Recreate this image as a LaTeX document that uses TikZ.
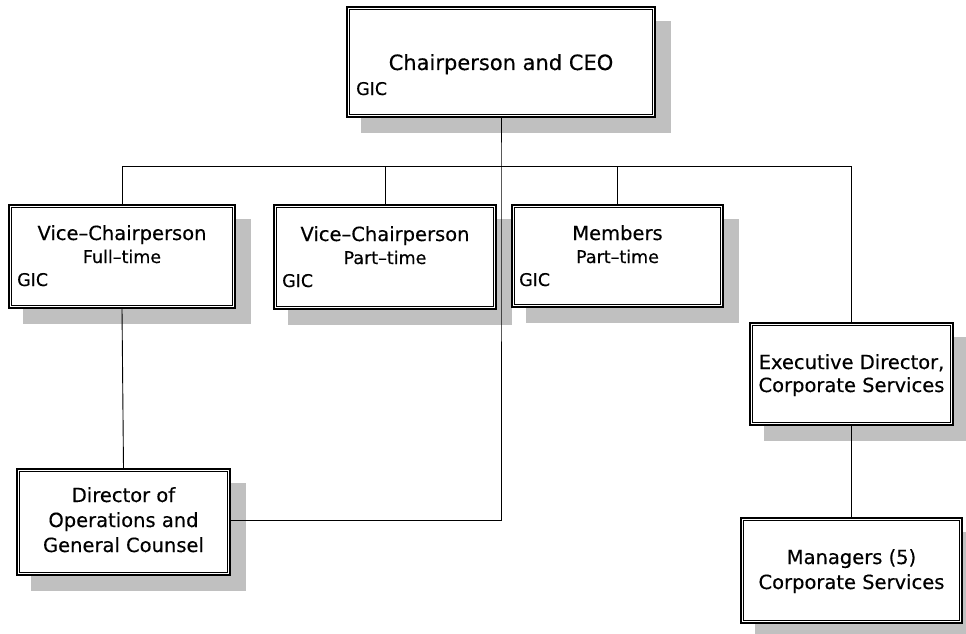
\documentclass[tikz,border=0pt]{standalone}
\usepackage{fontspec}
\setmainfont{DejaVu Sans}[FakeBold=0.35]
\pgfdeclarelayer{shadowlayer}
\pgfdeclarelayer{linelayer}
\pgfsetlayers{shadowlayer,linelayer,main}
\definecolor{shadowgray}{RGB}{192,192,192}
\tikzset{
  orgbox/.style={draw=black, line width=1.4pt, fill=white, inner sep=0pt, align=center},
  innerframe/.style={draw=black, line width=1pt},
  conn/.style={draw=black, line width=0.9pt},
  titlefont/.style={font=\fontsize{19.5}{24}\selectfont},
  subfont/.style={font=\fontsize{17.5}{22}\selectfont},
  gicfont/.style={font=\fontsize{17.5}{20}\selectfont, inner sep=0pt, anchor=base west},
}
% drop shadow behind a box, and the inner line of its double frame
\newcommand{\boxshadow}[1]{%
  \fill[shadowgray] ([shift={(15,15)}]#1.north west) rectangle ([shift={(15,15)}]#1.south east);}
\newcommand{\frameinner}[1]{%
  \draw[innerframe] ([shift={(3.6,3.6)}]#1.north west) rectangle ([shift={(-3.6,-3.6)}]#1.south east);}
\begin{document}
\begin{tikzpicture}[x=1pt,y=-1pt]
\useasboundingbox (0,0) rectangle (966,634);

% boxes
\node[orgbox, minimum width=308, minimum height=110] (ceo) at (501,62) {};
\node[orgbox, minimum width=226, minimum height=103] (vcf) at (122,256.5) {};
\node[orgbox, minimum width=222, minimum height=104] (vcp) at (385,257) {};
\node[orgbox, minimum width=211, minimum height=102] (mem) at (617.5,256) {};
\node[orgbox, minimum width=203, minimum height=102] (exd) at (851.5,374) {};
\node[orgbox, minimum width=213, minimum height=106] (doc) at (123.5,522) {};
\node[orgbox, minimum width=221, minimum height=105] (mgr) at (851.5,570.5) {};
\foreach \b in {ceo,vcf,vcp,mem,exd,doc,mgr} {\frameinner{\b}}

% box texts
\node[font=\fontsize{21}{24}\selectfont, anchor=base] (ceot) at (501,70) {Chairperson and CEO};
\node[gicfont] (ceog) at (356,95) {GIC};

\node[titlefont, anchor=base] (vcft) at (122,240) {Vice–Chairperson};
\node[subfont, anchor=base] (vcfs) at (122,263) {Full–time};
\node[gicfont] (vcfg) at (17,286) {GIC};

\node[titlefont, anchor=base] (vcpt) at (385,241) {Vice–Chairperson};
\node[subfont, anchor=base] (vcps) at (385,264) {Part–time};
\node[gicfont] (vcpg) at (282,287) {GIC};

\node[titlefont, anchor=base] (memt) at (617.5,240) {Members};
\node[subfont, anchor=base] (mems) at (617.5,263) {Part–time};
\node[gicfont] (memg) at (519,286) {GIC};

\node[titlefont, anchor=base] (exdt) at (851.5,369) {Executive Director,};
\node[titlefont, anchor=base] (exds) at (851.5,392) {Corporate Services};

\node[titlefont, anchor=base] (doct) at (123.5,502) {Director of};
\node[titlefont, anchor=base] (docs) at (123.5,527) {Operations and};
\node[titlefont, anchor=base] (docu) at (123.5,552) {General Counsel};

\node[titlefont, anchor=base] (mgrt) at (851.5,564) {Managers (5)};
\node[titlefont, anchor=base] (mgrs) at (851.5,589) {Corporate Services};

% junction points of the connector tree
\coordinate (bus) at (501,166.5);
\coordinate (corner) at (501,520.5);

\begin{pgfonlayer}{shadowlayer}
  \foreach \b in {ceo,vcf,vcp,mem,exd,doc,mgr} {\boxshadow{\b}}
\end{pgfonlayer}

\begin{pgfonlayer}{linelayer}
  \draw[conn] (ceo.south) -- (bus) -- (corner) -- (corner -| doc.east);
  \draw[conn] (bus -| vcf.north) -- (bus -| exd.north);
  \draw[conn] (bus -| vcf.north) -- (vcf.north);
  \draw[conn] (bus -| vcp.north) -- (vcp.north);
  \draw[conn] (bus -| mem.north) -- (mem.north);
  \draw[conn] (bus -| exd.north) -- (exd.north);
  \draw[conn] (vcf.south) -- (doc.north);
  \draw[conn] (exd.south) -- (mgr.north);
\end{pgfonlayer}
\end{tikzpicture}
\end{document}
